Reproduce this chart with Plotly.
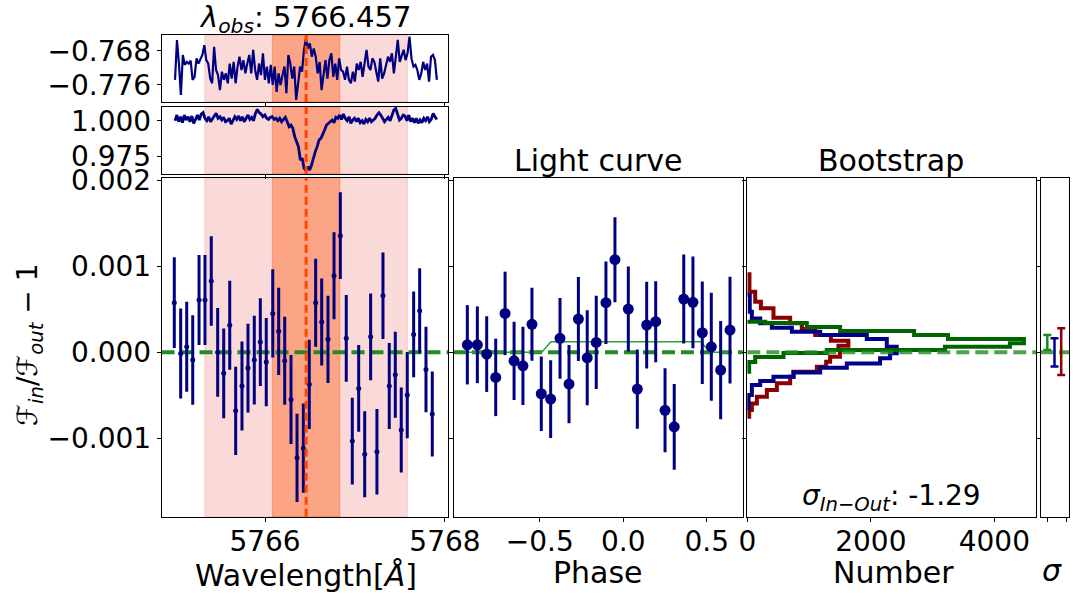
import plotly.graph_objects as go
import numpy as np

W, H = 1073, 598
FONT = "DejaVu Sans"
NAVY = "#000080"
GREEN_DASH = "rgb(34,139,34)"

# ---------------- data ----------------
LAMBDA_OBS = 5766.457
band_inner = [5766.082, 5766.832]
band_outer = [5765.332, 5767.582]

# top panel 1 spectrum (pixel grid from start to end wavelength)
spec1_range = [5765.00, 5767.91]
spec1_flux = [-0.7748, -0.7655, -0.7710, -0.7783, -0.7690, -0.7713, -0.7706, -0.7710, -0.7703, -0.7748,
              -0.7741, -0.7698, -0.7710, -0.7698, -0.7690, -0.7667, -0.7702, -0.7710, -0.7745, -0.7756,
              -0.7671, -0.7725, -0.7737, -0.7772, -0.7729, -0.7748, -0.7733, -0.7756, -0.7710, -0.7745,
              -0.7706, -0.7756, -0.7717, -0.7694, -0.7725, -0.7702, -0.7733, -0.7710, -0.7690, -0.7733,
              -0.7678, -0.7725, -0.7748, -0.7710, -0.7737, -0.7686, -0.7748, -0.7717, -0.7756, -0.7713,
              -0.7760, -0.7717, -0.7776, -0.7733, -0.7760, -0.7737, -0.7717, -0.7779, -0.7690, -0.7710,
              -0.7745, -0.7717, -0.7795, -0.7756, -0.7717, -0.7729, -0.7678, -0.7651, -0.7675, -0.7663,
              -0.7694, -0.7675, -0.7694, -0.7733, -0.7706, -0.7772, -0.7729, -0.7702, -0.7745, -0.7702,
              -0.7686, -0.7741, -0.7710, -0.7748, -0.7698, -0.7725, -0.7729, -0.7748, -0.7717, -0.7748,
              -0.7756, -0.7729, -0.7752, -0.7710, -0.7725, -0.7706, -0.7741, -0.7713, -0.7678, -0.7717,
              -0.7725, -0.7698, -0.7706, -0.7729, -0.7752, -0.7698, -0.7745, -0.7733, -0.7713, -0.7694,
              -0.7706, -0.7686, -0.7733, -0.7690, -0.7655, -0.7706, -0.7694, -0.7678, -0.7702, -0.7686,
              -0.7647, -0.7698, -0.7717, -0.7713, -0.7725, -0.7748, -0.7733, -0.7706, -0.7725, -0.7710,
              -0.7752, -0.7694, -0.7690, -0.7702, -0.7748]

# top panel 2 spectrum (normalised line profile)
spec2_range = [5765.00, 5767.91]
spec2_flux = [1.0000, 1.0040, 0.9993, 1.0028, 0.9986, 1.0040, 1.0005, 1.0028, 0.9993, 1.0033,
              0.9981, 1.0017, 1.0040, 1.0005, 1.0047, 1.0057, 1.0017, 1.0000, 1.0028, 0.9993,
              1.0009, 1.0033, 1.0052, 1.0017, 1.0028, 1.0005, 1.0024, 0.9993, 1.0000, 1.0017,
              0.9976, 1.0005, 1.0028, 1.0009, 1.0033, 1.0000, 1.0028, 0.9993, 1.0017, 1.0040,
              1.0009, 1.0024, 1.0000, 1.0052, 1.0080, 1.0057, 1.0047, 1.0028, 1.0040, 1.0017,
              1.0009, 1.0024, 1.0028, 1.0009, 1.0017, 1.0000, 1.0017, 0.9993, 1.0009, 1.0024,
              0.9993, 0.9958, 0.9969, 0.9946, 0.9887, 0.9851, 0.9816, 0.9722, 0.9734, 0.9663,
              0.9646, 0.9675, 0.9651, 0.9686, 0.9745, 0.9781, 0.9816, 0.9863, 0.9875, 0.9899,
              0.9934, 0.9969, 0.9981, 0.9993, 1.0005, 0.9986, 1.0024, 1.0017, 1.0040, 1.0009,
              1.0047, 1.0017, 1.0000, 1.0028, 0.9981, 1.0005, 1.0017, 0.9993, 1.0017, 0.9986,
              1.0000, 0.9976, 1.0009, 0.9993, 1.0017, 0.9993, 1.0005, 1.0017, 1.0040, 1.0057,
              1.0040, 1.0017, 0.9993, 1.0009, 1.0024, 1.0000, 1.0040, 1.0075, 1.0087, 1.0040,
              1.0005, 1.0017, 1.0040, 1.0033, 1.0000, 1.0040, 0.9993, 1.0017, 0.9986, 1.0017,
              0.9981, 1.0005, 0.9986, 1.0017, 1.0000, 1.0028, 0.9993, 1.0009, 1.0052, 1.0028,
              1.0009]

# main panel: binned in/out ratio
bin_wave = [5764.992, 5765.063, 5765.130, 5765.197, 5765.267, 5765.333, 5765.403, 5765.474, 5765.541,
            5765.608, 5765.674, 5765.744, 5765.811, 5765.881, 5765.948, 5766.014, 5766.086, 5766.152,
            5766.219, 5766.289, 5766.356, 5766.426, 5766.492, 5766.563, 5766.630, 5766.700, 5766.767,
            5766.837, 5766.903, 5766.970, 5767.041, 5767.108, 5767.174, 5767.244, 5767.311, 5767.381,
            5767.448, 5767.514, 5767.581, 5767.652, 5767.719, 5767.789, 5767.859]
bin_flux = [0.000577, -0.000012, 0.000065, -0.000090, 0.000608, 0.000608, 0.000829, 0.000000, -0.000244,
            0.000314, -0.000679, -0.000392, -0.000183, -0.000090, 0.000120, -0.000113, 0.000453, 0.000244,
            -0.000098, -0.000547, -0.001226, -0.001113, -0.000372, 0.000577, 0.000352, 0.000151, 0.000891,
            0.001356, 0.000163, -0.001031, -0.000419, -0.001183, 0.000181, -0.001156, 0.000658, -0.000392,
            -0.000260, -0.000903, -0.000497, 0.000209, 0.000484, -0.000198, -0.000717]
bin_err = [0.000527, 0.000523, 0.000523, 0.000520, 0.000523, 0.000523, 0.000521, 0.000517, 0.000521,
           0.000517, 0.000513, 0.000517, 0.000516, 0.000516, 0.000510, 0.000513, 0.000512, 0.000508,
           0.000512, 0.000517, 0.000513, 0.000520, 0.000520, 0.000512, 0.000506, 0.000506, 0.000506,
           0.000504, 0.000504, 0.000504, 0.000504, 0.000500, 0.000504, 0.000497, 0.000502, 0.000500,
           0.000500, 0.000494, 0.000500, 0.000498, 0.000494, 0.000497, 0.000494]

# light curve
lc_phase = [-0.934, -0.874, -0.818, -0.764, -0.708, -0.654, -0.601, -0.547, -0.491, -0.435,
            -0.379, -0.325, -0.269, -0.216, -0.162, -0.104, -0.050, 0.030, 0.084, 0.140,
            0.194, 0.250, 0.305, 0.362, 0.417, 0.473, 0.527, 0.583, 0.639]
lc_flux = [0.000088, 0.000088, -0.000020, -0.000291, 0.000453, -0.000098, -0.000156, 0.000326, -0.000481,
           -0.000543, 0.000163, -0.000369, 0.000387, -0.000063, 0.000116, 0.000577, 0.001077, 0.000503,
           -0.000427, 0.000317, 0.000356, -0.000674, -0.000865, 0.000620, 0.000581, 0.000228, 0.000065,
           -0.000206, 0.000259]
lc_err = [0.000461, 0.000446, 0.000440, 0.000450, 0.000485, 0.000455, 0.000455, 0.000424, 0.000432,
          0.000452, 0.000469, 0.000455, 0.000488, 0.000552, 0.000543, 0.000480, 0.000494, 0.000494,
          0.000461, 0.000504, 0.000471, 0.000488, 0.000498, 0.000517, 0.000533, 0.000597, 0.000628,
          0.000570, 0.000620]
model_phase = [-0.95, -0.488, -0.434, 0.464, 0.520, 0.65]
model_flux = [0.0, 0.0, 0.000123, 0.000123, 0.0, 0.0]

# bootstrap histograms (bin edges from top to bottom, counts per bin)
red_edges = [0.000907, 0.000705, 0.000588, 0.000512, 0.000402, 0.000337, 0.000271, 0.000201, 0.000135,
             0.0000767, 0.0000267, -0.0000512, -0.000109, -0.000167, -0.000226, -0.000284, -0.000360,
             -0.000438, -0.000516, -0.000593, -0.000671, -0.000749]
red_counts = [35, 128, 220, 424, 694, 883, 1099, 1353, 1637, 1476, 1500, 1341, 1277, 1126, 748, 694, 479,
              317, 155, 74, 31]
blue_edges = [0.000666, 0.000472, 0.000395, 0.000337, 0.000286, 0.000240, 0.000201, 0.000155, 0.0000651,
              -0.0000116, -0.0000698, -0.000128, -0.000179, -0.000233, -0.000284, -0.000334, -0.000380,
              -0.000497, -0.000651]
blue_counts = [40, 74, 209, 398, 722, 1180, 1935, 2259, 2420, 2312, 2150, 1611, 1180, 748, 424, 209, 74, 20]
green_edges = [0.000356, 0.000341, 0.000294, 0.000248, 0.000201, 0.000155, 0.000105, 0.0000651, 0.0000267,
               -0.0000081, -0.0000547, -0.000113, -0.000226]
green_counts = [290, 964, 1503, 2701, 3250, 4480, 4253, 3201, 1288, 586, 128, 30]

# sigma panel error bars (green, blue, red)
sig_pos = [1.0, 2.0, 2.93]
sig_center = [0.000114, 0.0000, 0.0000076]
sig_err = [0.000087, 0.000165, 0.000272]
sig_colors = ["#1a8a1a", "#00008B", "#8B0000"]

sigma_text = "-1.29"

# tick labels
wave_ticks = [5766, 5768]
wave_ticktext = ["5766", "5768"]
ratio_ticks = [-0.001, 0.0, 0.001, 0.002]
ratio_ticktext = ["\u22120.001", "0.000", "0.001", "0.002"]
top1_ticks = [-0.776, -0.768]
top1_ticktext = ["\u22120.776", "\u22120.768"]
top2_ticks = [0.975, 1.000]
top2_ticktext = ["0.975", "1.000"]
phase_ticks = [-0.5, 0.0, 0.5]
phase_ticktext = ["\u22120.5", "0.0", "0.5"]
num_ticks = [0, 2000, 4000]
num_ticktext = ["0", "2000", "4000"]

# ---------------- geometry ----------------
def px_x(a, b):
    return [a / W, b / W]

def px_y(top, bottom):
    return [1 - bottom / H, 1 - top / H]

dom_x_left = px_x(161.7, 448.3)
dom_x_lc = px_x(454.0, 742.7)
dom_x_bs = px_x(747.3, 1036.0)
dom_x_sg = px_x(1040.7, 1069.3)
dom_y_top1 = px_y(35.0, 102.0)
dom_y_top2 = px_y(106.7, 174.0)
dom_y_main = px_y(177.7, 516.7)

fig = go.Figure()

def axis_style(**kw):
    d = dict(showline=True, linecolor="black", linewidth=1, mirror=True, ticks="outside",
             ticklen=4, tickwidth=1, tickcolor="black", showgrid=False, zeroline=False,
             automargin=False,
             tickfont=dict(family=FONT, size=28, color="black"))
    d.update(kw)
    return d

# ---------------- traces ----------------
w1 = np.linspace(spec1_range[0], spec1_range[1], len(spec1_flux))
w2 = np.linspace(spec2_range[0], spec2_range[1], len(spec2_flux))
fig.add_trace(go.Scatter(x=w1, y=spec1_flux, mode="lines", line=dict(color=NAVY, width=2.2),
                         xaxis="x", yaxis="y", showlegend=False))
fig.add_trace(go.Scatter(x=w2, y=spec2_flux, mode="lines", line=dict(color=NAVY, width=2.8),
                         xaxis="x2", yaxis="y2", showlegend=False))

# green zero lines
dash_style = dict(color=GREEN_DASH, width=4, dash="13px,6px")
fig.add_trace(go.Scatter(x=[5764.85, 5768.04], y=[0, 0], mode="lines", line=dash_style,
                         xaxis="x3", yaxis="y3", showlegend=False))
fig.add_trace(go.Scatter(x=[-1.02, 0.72], y=[0, 0], mode="lines", line=dash_style,
                         xaxis="x4", yaxis="y4", showlegend=False))

fig.add_trace(go.Scatter(x=bin_wave, y=bin_flux, mode="markers",
                         marker=dict(color=NAVY, size=5),
                         error_y=dict(type="data", array=bin_err, color=NAVY, thickness=3, width=0),
                         xaxis="x3", yaxis="y3", showlegend=False))

fig.add_trace(go.Scatter(x=model_phase, y=model_flux, mode="lines",
                         line=dict(color="rgb(50,160,50)", width=1.5),
                         xaxis="x4", yaxis="y4", showlegend=False))
fig.add_trace(go.Scatter(x=lc_phase, y=lc_flux, mode="markers",
                         marker=dict(color=NAVY, size=11),
                         error_y=dict(type="data", array=lc_err, color=NAVY, thickness=3, width=0),
                         xaxis="x4", yaxis="y4", showlegend=False))

def step_path(edges, counts):
    xs, ys = [0], [edges[0]]
    for i, c in enumerate(counts):
        xs += [c, c]
        ys += [edges[i], edges[i + 1]]
    xs.append(0)
    ys.append(edges[-1])
    return xs, ys

for edges, counts, col in [(red_edges, red_counts, "#8B0000"),
                           (blue_edges, blue_counts, "#00008B"),
                           (green_edges, green_counts, "#006400")]:
    xs, ys = step_path(edges, counts)
    fig.add_trace(go.Scatter(x=xs, y=ys, mode="lines", line=dict(color=col, width=4),
                             xaxis="x5", yaxis="y5", showlegend=False))

fig.add_trace(go.Scatter(x=[0, 4700], y=[0, 0], mode="lines",
                         line=dict(color="rgba(34,139,34,0.8)", width=4, dash="13px,6px"),
                         xaxis="x5", yaxis="y5", showlegend=False))

fig.add_trace(go.Scatter(x=[0, 5], y=[0, 0], mode="lines",
                         line=dict(color="rgba(34,139,34,0.8)", width=4, dash="13px,6px"),
                         xaxis="x6", yaxis="y6", showlegend=False))
for p, c, e, col in zip(sig_pos, sig_center, sig_err, sig_colors):
    fig.add_trace(go.Scatter(x=[p], y=[c], mode="markers", marker=dict(color=col, size=1),
                             error_y=dict(type="data", array=[e], color=col, thickness=2.5, width=4),
                             xaxis="x6", yaxis="y6", showlegend=False))

# ---------------- shapes ----------------
shapes = []
for xr, yr in [("x", "y"), ("x2", "y2"), ("x3", "y3")]:
    shapes.append(dict(type="rect", xref=xr, yref=yr + " domain", x0=band_outer[0], x1=band_outer[1],
                       y0=0, y1=1, fillcolor="rgba(240,128,128,0.3)",
                       line=dict(color="rgba(240,128,128,0.35)", width=1), layer="below"))
    shapes.append(dict(type="rect", xref=xr, yref=yr + " domain", x0=band_inner[0], x1=band_inner[1],
                       y0=0, y1=1, fillcolor="rgba(255,80,0,0.38)",
                       line=dict(color="rgba(255,80,0,0.4)", width=1), layer="below"))
    shapes.append(dict(type="line", xref=xr, yref=yr + " domain", x0=LAMBDA_OBS, x1=LAMBDA_OBS,
                       y0=0, y1=1, line=dict(color="#FF4500", width=3, dash="8px,4px"), layer="above"))

# ---------------- annotations ----------------
def ann(text, x, y, size=30, angle=0, xanchor="center", yanchor="middle"):
    return dict(text=text, x=x / W, y=1 - y / H, xref="paper", yref="paper", showarrow=False,
                font=dict(family=FONT, size=size, color="black"), textangle=angle,
                xanchor=xanchor, yanchor=yanchor)

annotations = [
    ann("<i>λ</i><sub><i>obs</i></sub>: 5766.457", 305, 19, size=29),
    ann("Light curve", 598, 160),
    ann("Bootstrap", 891, 160),
    ann("Wavelength[<i>Å</i>]", 306, 575),
    ann("Phase", 598, 572),
    ann("Number", 893, 572),
    ann("<i>σ</i>", 1052, 570),
    ann("<i>σ</i><sub><i>In\u2212Out</i></sub>: " + sigma_text, 891, 497, size=28),
    ann("ℱ<sub><i>in</i></sub>/ℱ<sub><i>out</i></sub> \u2212 1", 30, 345, angle=-90, size=28),
]

common_x = dict(ticklabelstandoff=-4)

layout = dict(
    width=W, height=H, margin=dict(l=0, r=0, t=0, b=0, autoexpand=False),
    paper_bgcolor="white", plot_bgcolor="white", showlegend=False,
    shapes=shapes, annotations=annotations,
    xaxis=axis_style(domain=dom_x_left, range=[5764.852, 5768.037], anchor="y",
                     tickvals=wave_ticks, showticklabels=False),
    yaxis=axis_style(domain=dom_y_top1, range=[-0.77997, -0.76434], anchor="x",
                     tickvals=top1_ticks, ticktext=top1_ticktext),
    xaxis2=axis_style(domain=dom_x_left, range=[5764.852, 5768.037], anchor="y2",
                      tickvals=wave_ticks, showticklabels=False),
    yaxis2=axis_style(domain=dom_y_top2, range=[0.96225, 1.00992], anchor="x2",
                      tickvals=top2_ticks, ticktext=top2_ticktext),
    xaxis3=axis_style(domain=dom_x_left, range=[5764.852, 5768.037], anchor="y3",
                      tickvals=wave_ticks, ticktext=wave_ticktext, **common_x),
    yaxis3=axis_style(domain=dom_y_main, range=[-0.00191, 0.00203], anchor="x3",
                      tickvals=ratio_ticks, ticktext=ratio_ticktext),
    xaxis4=axis_style(domain=dom_x_lc, range=[-1.0138, 0.7150], anchor="y4",
                      tickvals=phase_ticks, ticktext=phase_ticktext, **common_x),
    yaxis4=axis_style(domain=dom_y_main, range=[-0.00191, 0.00203], anchor="x4",
                      tickvals=ratio_ticks, showticklabels=False),
    xaxis5=axis_style(domain=dom_x_bs, range=[0, 4675], anchor="y5",
                      tickvals=num_ticks, ticktext=num_ticktext, **common_x),
    yaxis5=axis_style(domain=dom_y_main, range=[-0.00191, 0.00203], anchor="x5",
                      tickvals=ratio_ticks, showticklabels=False),
    xaxis6=axis_style(domain=dom_x_sg, range=[0.083, 4.056], anchor="y6",
                      tickvals=[1.06, 3.6], showticklabels=False),
    yaxis6=axis_style(domain=dom_y_main, range=[-0.00191, 0.00203], anchor="x6",
                      tickvals=ratio_ticks, showticklabels=False),
)
fig.update_layout(**layout)
fig.write_html("out.html")
